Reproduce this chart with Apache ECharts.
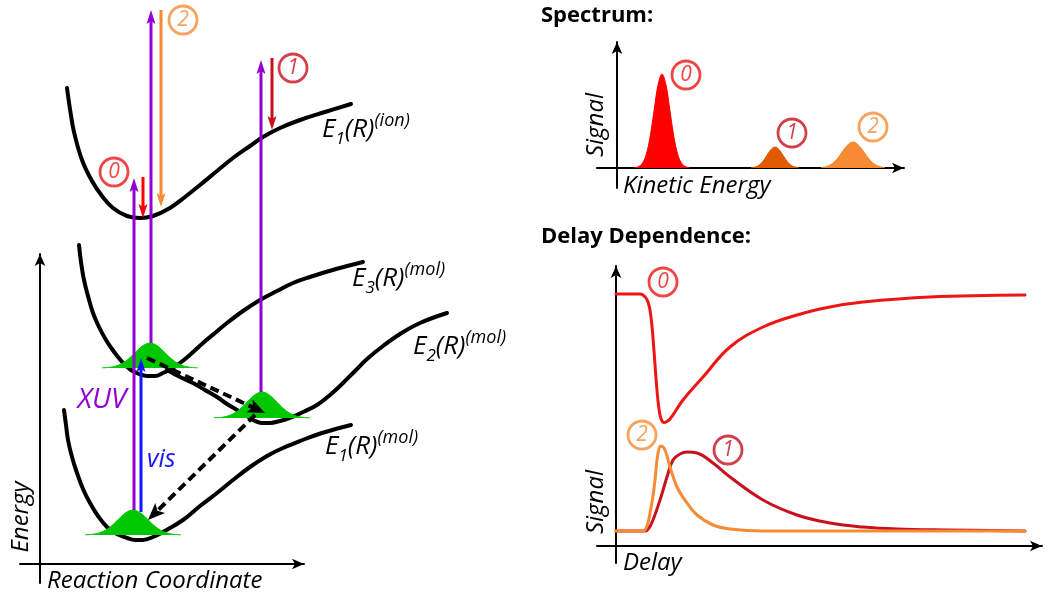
<!DOCTYPE html>
<html>
<head>
<meta charset="utf-8">
<script src="https://cdn.jsdelivr.net/npm/echarts@6/dist/echarts.min.js"></script>
<style>
  html, body { margin: 0; padding: 0; background: #fff; }
  #chart { width: 1051px; height: 596px; }
</style>
</head>
<body>
<div id="chart"></div>
<script>
// ---------- Potential energy curves (reaction coordinate, energy) ----------
const ionCurve  = [[27,476],[30,455],[34,432],[42,404],[52,383],[62,368],[73,356],[87,348],[100,346],[113,348],[130,356],[145,367],[160,379],[177,393],[193,406],[210,418],[223,427],[240,436],[260,444],[285,452],[311,460]];
const mol3Curve = [[39,319],[41,302],[44,284],[48,268],[53,251],[59,237],[66,224],[72,215],[78,207],[84,200],[91,194],[99,190],[107,188],[115,188],[123,191],[131,195],[140,201],[152,211],[163,221],[175,231],[187,241],[203,253],[220,264],[237,273],[253,281],[270,287],[296,295],[323,302]];
const mol2Curve = [[127,194],[140,187],[153,181],[165,174],[177,167],[187,160],[197,154],[207,148],[215,143],[222,141],[230,141],[240,143],[250,146],[263,152],[277,159],[290,169],[303,181],[315,193],[327,205],[343,218],[360,230],[380,241],[407,251]];
const mol1Curve = [[24,154],[26,139],[28,124],[32,107],[37,91],[43,75],[50,61],[58,48],[67,37],[77,30],[87,26],[95,24],[103,24],[113,27],[123,32],[143,44],[160,58],[177,71],[193,84],[210,97],[227,108],[243,116],[260,123],[282,131],[311,139]];

// Wave packets: [coordinate, energy]; baselines below
const groundPacket = [[45,29.2],[53,29.7],[61,31.6],[69,36.0],[77,43.2],[85,50.7],[93,54],[101,50.7],[109,43.2],[117,36.0],[125,31.6],[133,29.7],[141,29.2]];
const mol3Packet   = [[62,196.2],[70,196.7],[78,198.6],[86,203.0],[94,210.2],[102,217.7],[110,221],[118,217.7],[126,210.2],[134,203.0],[142,198.6],[150,196.7],[158,196.2]];
const mol2Packet   = [[174,146.2],[182,146.7],[190,148.7],[198,153.2],[206,160.7],[214,168.5],[222,172],[230,168.5],[238,160.7],[246,153.2],[254,148.7],[262,146.7],[270,146.2]];
const packetBases  = [29, 196, 146];

// Transitions: [x start, y start, x tip, y tip]
const xuvArrows    = [[94,54,94,386],[111,221,111,554],[221,172,221,504]];
const visArrows    = [[101,52,101,206]];
const probe0Arrows = [[103,387,103,346]];
const probe2Arrows = [[121,554,121,357]];
const probe1Arrows = [[232,506,232,434]];
const relaxArrows  = [[107,206,225,151],[215,149,108,44]];

// Channel markers on the energy diagram
const diagramMarks  = [[74,392],[143,544],[253,496]];
const diagramDigits = ['0','2','1'];

// ---------- Photoelectron spectrum (kinetic energy, signal) ----------
const peak0 = [[17,0.2],[21,1.1],[25,4.1],[29,12.7],[33,30.5],[37,57.0],[41,82.9],[45,94],[49,82.9],[53,57.0],[57,30.5],[61,12.7],[65,4.1],[69,1.1],[73,0.2]];
const peak1 = [[134,0.2],[138,0.9],[142,2.8],[146,6.8],[150,12.7],[154,18.5],[158,21],[162,18.5],[166,12.7],[170,6.8],[174,2.8],[178,0.9],[182,0.2]];
const peak2 = [[204,0.4],[208,1.0],[212,2.4],[216,5.0],[220,9.0],[224,14.4],[228,20.0],[232,24.3],[236,26],[240,24.3],[244,20.0],[248,14.4],[252,9.0],[256,5.0],[260,2.4],[264,1.0],[268,0.4]];
const spectrumMarks  = [[69,93],[175,35],[256,41]];
const spectrumDigits = ['0','1','2'];

// ---------- Delay dependence (delay, signal) ----------
const delay0 = [[0,252],[24,252],[27,251],[30,248],[32,244],[34,236],[36,220],[38,195],[40,168],[42,145],[44,131],[46,125],[48,123.5],[50,124],[54,127],[67,146],[87,169],[114,199],[147,219],[181,231],[214,239],[247,244],[314,249],[409,251]];
const delay1 = [[0,15],[29,15],[33,18],[37,26],[44,46],[51,69],[57,86],[64,92],[71,94],[81,93],[97,83],[114,69],[147,46],[181,31],[214,23],[247,19],[281,17],[330,16],[409,15]];
const delay2 = [[0,15],[27,15],[31,20],[34,33],[37,50],[39,66],[42,93],[45,100],[49,96],[54,79],[61,59],[71,43],[81,31],[97,21],[114,17],[147,15],[409,15]];
const delayMarks  = [[47,264],[26,111],[112,96]];
const delayDigits = ['0','2','1'];

// ---------- Styling ----------
const FONT = "'Open Sans', 'DejaVu Sans', sans-serif";
const C = {
  black: '#000000', purple: '#9400d3', blue: '#1414ff', green: '#00c800',
  red: '#ff0000', redLine: '#ee1515', darkRed: '#c8101e', orange: '#f68b33', burnt: '#e05a00'
};
const digitColor = { '0': C.redLine, '1': C.darkRed, '2': C.orange };

const chart = echarts.init(document.getElementById('chart'), null, { renderer: 'canvas' });

function axisPair(idx, xmin, xmax, ymin, ymax, visible) {
  const line = {
    show: visible, onZero: true,
    symbol: ['none', 'arrow'], symbolSize: [8, 12],
    lineStyle: { color: C.black, width: 2 }
  };
  const common = {
    gridIndex: idx, type: 'value', axisLine: line,
    axisTick: { show: false }, axisLabel: { show: false }, splitLine: { show: false }
  };
  return {
    x: Object.assign({}, common, { min: xmin, max: xmax }),
    y: Object.assign({}, common, { min: ymin, max: ymax })
  };
}
// Energy diagram: drawn axes (0) plus a wider plotting frame (3) on the same scale,
// so the curves can run past the end of the reaction-coordinate arrow.
const axLeft  = axisPair(0, -20, 264, -19, 310, true);
const axSpec  = axisPair(1, -20, 287, -20, 126, true);
const axDelay = axisPair(2, -19, 426, -17, 280, true);
const axLeftPlot = axisPair(3, -20, 420, -19, 310, false);
const LP = 3;

function curve(idx, data, color, width, z) {
  return {
    type: 'line', xAxisIndex: idx, yAxisIndex: idx, data: data,
    smooth: 0.4, showSymbol: false, symbol: 'none', clip: false,
    lineStyle: { color: color, width: width, cap: 'round', join: 'round' }, z: z || 2, silent: true
  };
}
function filled(idx, data, color, base, z) {
  return {
    type: 'line', xAxisIndex: idx, yAxisIndex: idx, data: data,
    smooth: 0.35, showSymbol: false, symbol: 'none', clip: false,
    lineStyle: { color: color, width: 1 },
    areaStyle: { color: color, opacity: 1, origin: base },
    z: z || 3, silent: true
  };
}
function arrows(idx, data, color, width, headLen, headW, dash, z) {
  return {
    type: 'custom', xAxisIndex: idx, yAxisIndex: idx, data: data,
    encode: { x: [0, 2], y: [1, 3] }, clip: false, silent: true, z: z || 4,
    renderItem: function (params, api) {
      const a = api.coord([api.value(0), api.value(1)]);
      const b = api.coord([api.value(2), api.value(3)]);
      const dx = b[0] - a[0], dy = b[1] - a[1];
      const L = Math.sqrt(dx * dx + dy * dy);
      const ux = dx / L, uy = dy / L, px = -uy, py = ux;
      const back = [b[0] - ux * headLen, b[1] - uy * headLen];
      const notch = [b[0] - ux * headLen * 0.78, b[1] - uy * headLen * 0.78];
      return {
        type: 'group',
        children: [
          { type: 'line', shape: { x1: a[0], y1: a[1], x2: notch[0], y2: notch[1] },
            style: { stroke: color, lineWidth: width, lineDash: dash || null, fill: null } },
          { type: 'polygon',
            shape: { points: [b, [back[0] + px * headW / 2, back[1] + py * headW / 2], notch,
                              [back[0] - px * headW / 2, back[1] - py * headW / 2]] },
            style: { fill: color, stroke: null } }
        ]
      };
    }
  };
}
function markers(idx, pos, digits) {
  return {
    type: 'scatter', xAxisIndex: idx, yAxisIndex: idx, clip: false, silent: true, z: 6,
    symbol: 'circle', symbolSize: 28,
    data: pos.map(function (p, i) {
      return {
        value: p, name: digits[i],
        itemStyle: { color: '#ffffff', borderColor: digitColor[digits[i]], borderWidth: 2.8 },
        label: { color: digitColor[digits[i]] }
      };
    }),
    label: {
      show: true, position: 'inside', formatter: '{b}',
      fontFamily: FONT, fontStyle: 'italic', fontSize: 21
    }
  };
}

function text(x, y, str, opts) {
  const o = opts || {};
  return {
    type: 'text', x: x, y: y, rotation: o.rotation || 0, silent: true, z: 10,
    style: {
      text: str, fill: o.color || C.black,
      fontFamily: FONT, fontSize: o.size || 23,
      fontStyle: o.italic === false ? 'normal' : 'italic',
      fontWeight: o.bold ? 'bold' : 'normal',
      align: o.align || 'left', textAlign: o.align || 'left',
      verticalAlign: 'middle', textVerticalAlign: 'middle'
    }
  };
}
function stateLabel(x, y, idx, sup) {
  const base = { fontFamily: FONT, fontStyle: 'italic', fill: C.black };
  return {
    type: 'text', x: x, y: y, silent: true, z: 10,
    style: {
      text: '{m|E}{sb|' + idx + '}{m|(R)}{sp|(' + sup + ')}',
      fill: C.black, align: 'left', textAlign: 'left',
      verticalAlign: 'middle', textVerticalAlign: 'middle',
      rich: {
        m:  Object.assign({ fontSize: 26, lineHeight: 36, verticalAlign: 'middle' }, base),
        sb: Object.assign({ fontSize: 17, lineHeight: 20, verticalAlign: 'bottom' }, base),
        sp: Object.assign({ fontSize: 18, lineHeight: 20, verticalAlign: 'top' }, base)
      }
    }
  };
}

const option = {
  animation: false,
  backgroundColor: '#ffffff',
  grid: [
    { left: 20,  top: 254, width: 284, height: 329, containLabel: false, outerBoundsMode: 'none' },
    { left: 597, top: 42,  width: 307, height: 146, containLabel: false, outerBoundsMode: 'none' },
    { left: 597, top: 266, width: 445, height: 297, containLabel: false, outerBoundsMode: 'none' },
    { left: 20,  top: 254, width: 440, height: 329, containLabel: false, outerBoundsMode: 'none' }
  ],
  xAxis: [axLeft.x, axSpec.x, axDelay.x, axLeftPlot.x],
  yAxis: [axLeft.y, axSpec.y, axDelay.y, axLeftPlot.y],
  series: [
    // energy diagram
    curve(LP, ionCurve,  C.black, 4),
    curve(LP, mol3Curve, C.black, 4),
    curve(LP, mol2Curve, C.black, 4),
    curve(LP, mol1Curve, C.black, 4),
    filled(LP, groundPacket, C.green, packetBases[0]),
    filled(LP, mol3Packet,   C.green, packetBases[1]),
    filled(LP, mol2Packet,   C.green, packetBases[2]),
    arrows(LP, xuvArrows,    C.purple,  3, 14, 9),
    arrows(LP, visArrows,    C.blue,    3, 14, 9, null, 5),
    arrows(LP, probe0Arrows, C.red,     3, 14, 9),
    arrows(LP, probe2Arrows, C.orange,  3, 14, 9),
    arrows(LP, probe1Arrows, C.darkRed, 3, 14, 9),
    arrows(LP, relaxArrows,  C.black,   4, 17, 14, [9, 5], 5),
    markers(LP, diagramMarks, diagramDigits),
    // spectrum
    filled(1, peak0, C.red, 0),
    filled(1, peak1, C.burnt, 0),
    filled(1, peak2, C.orange, 0),
    markers(1, spectrumMarks, spectrumDigits),
    // delay dependence
    curve(2, delay0, C.redLine, 3),
    curve(2, delay1, C.darkRed, 3),
    curve(2, delay2, C.orange, 3, 3),
    markers(2, delayMarks, delayDigits)
  ],
  graphic: [
    stateLabel(322, 130, 1, 'ion'),
    stateLabel(352, 279, 3, 'mol'),
    stateLabel(413, 347, 2, 'mol'),
    stateLabel(325, 447, 1, 'mol'),
    text(102, 400, 'XUV', { color: C.purple, size: 28, align: 'center' }),
    text(147, 460, 'vis', { color: C.blue, size: 25 }),
    text(21, 517, 'Energy', { rotation: Math.PI / 2, align: 'center', size: 24 }),
    text(47, 581, 'Reaction Coordinate', { size: 24 }),
    text(541, 16, 'Spectrum:', { bold: true, italic: false, size: 22 }),
    text(596, 125, 'Signal', { rotation: Math.PI / 2, align: 'center', size: 24 }),
    text(623, 186, 'Kinetic Energy', { size: 24 }),
    text(541, 237, 'Delay Dependence:', { bold: true, italic: false, size: 22 }),
    text(596, 502, 'Signal', { rotation: Math.PI / 2, align: 'center', size: 24 }),
    text(623, 563, 'Delay', { size: 24 })
  ]
};
chart.setOption(option);
</script>
</body>
</html>
